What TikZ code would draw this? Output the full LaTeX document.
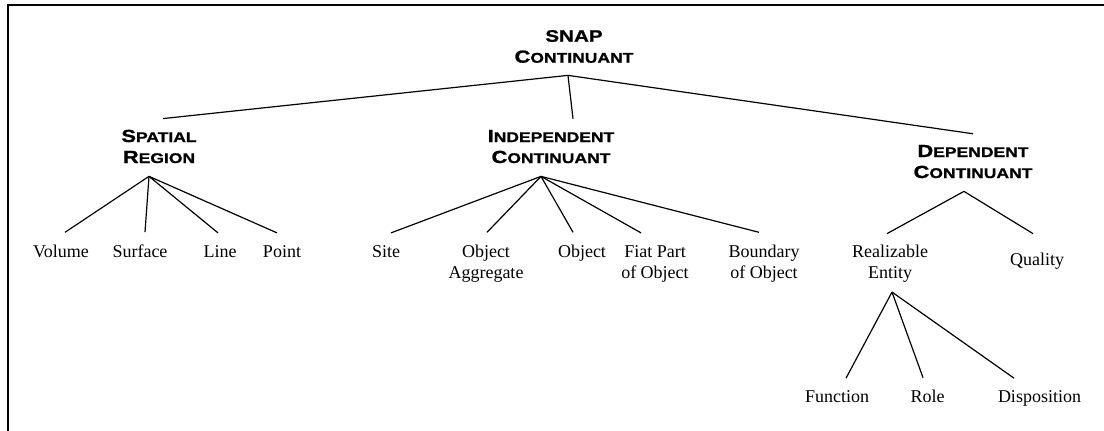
\documentclass[tikz,border=0pt]{standalone}
\usepackage{fontspec}
\setmainfont{Liberation Serif}
\newfontfamily\headfont[FakeStretch=1.25,FakeBold=1.2]{Liberation Sans}
% small-caps style heading: one large initial, the rest in smaller capitals
\newcommand\hcap[2]{{\fontsize{17.5}{21}\selectfont #1}{\fontsize{14}{21}\selectfont #2}}
\begin{document}
\begin{tikzpicture}[x=1pt,y=-1pt,
  frame/.style={line width=2pt,line cap=rect},
  head/.style={font=\headfont\bfseries\fontsize{17.5}{21}\selectfont,
               align=center,inner sep=0pt,anchor=base},
  leaf/.style={font=\fontsize{18}{21}\selectfont,
               align=center,inner sep=0pt,anchor=base},
  link/.style={line width=1.2pt}]
\useasboundingbox (0,0) rectangle (1104,431);
\draw[frame] (7.7,431) -- (7.7,5) -- (1104,5);

% category headings (placed by the baseline of their last line)
\node[head] (snap)  at (574,62.7) {{\fontsize{16.5}{21}\selectfont SNAP}\\\hcap{C}{ONTINUANT}};
\node[head] (spat)  at (159,163)  {\hcap{S}{PATIAL}\\\hcap{R}{EGION}};
\node[head] (indep) at (551,163)  {\hcap{I}{NDEPENDENT}\\\hcap{C}{ONTINUANT}};
\node[head] (dep)   at (973,178)  {\hcap{D}{EPENDENT}\\\hcap{C}{ONTINUANT}};

% leaves
\node[leaf] (vol)   at (61,257)   {Volume};
\node[leaf] (surf)  at (140,257)  {Surface};
\node[leaf] (line)  at (220,257)  {Line};
\node[leaf] (point) at (282,257)  {Point};
\node[leaf] (site)  at (386,257)  {Site};
\node[leaf] (agg)   at (486,278)  {Object\\Aggregate};
\node[leaf] (obj)   at (582,257)  {Object};
\node[leaf] (fiat)  at (655,278)  {Fiat Part\\of Object};
\node[leaf] (bound) at (764,278)  {Boundary\\of Object};
\node[leaf] (real)  at (890,278)  {Realizable\\Entity};
\node[leaf] (qual)  at (1037,265) {Quality};
\node[leaf] (func)  at (837,402)  {Function};
\node[leaf] (role)  at (927.5,402){Role};
\node[leaf] (disp)  at (1039.5,402){Disposition};

% root branches
\draw[link] ([xshift=-6pt,yshift=-12.3pt]snap.south) -- ([xshift=4pt,yshift=11pt]spat.north);
\draw[link] ([xshift=-6pt,yshift=-12.3pt]snap.south) -- ([xshift=22pt,yshift=11pt]indep.north);
\draw[link] ([xshift=-6pt,yshift=-12.3pt]snap.south) -- ([xshift=0pt,yshift=11pt]dep.north);

% spatial region
\foreach \n/\dx in {vol/4,surf/5,line/-2,point/-5}
  \draw[link] ([xshift=-10pt,yshift=-13pt]spat.south) -- ([xshift=\dx pt,yshift=12pt]\n.north);

% independent continuant
\foreach \n/\dx in {site/5,agg/1,obj/-9,fiat/-14,bound/-5}
  \draw[link] ([xshift=-10pt,yshift=-13pt]indep.south) -- ([xshift=\dx pt,yshift=12pt]\n.north);

% dependent continuant
\draw[link] ([xshift=-9pt,yshift=-13pt]dep.south) -- ([xshift=-3pt,yshift=10.7pt]real.north);
\draw[link] ([xshift=-9pt,yshift=-13pt]dep.south) -- ([xshift=-4pt,yshift=18.7pt]qual.north);

% realizable entity
\foreach \n/\dx in {func/9,role/-4.5,disp/-25.5}
  \draw[link] ([xshift=2pt,yshift=-10pt]real.south) -- ([xshift=\dx pt,yshift=11.7pt]\n.north);
\end{tikzpicture}
\end{document}
